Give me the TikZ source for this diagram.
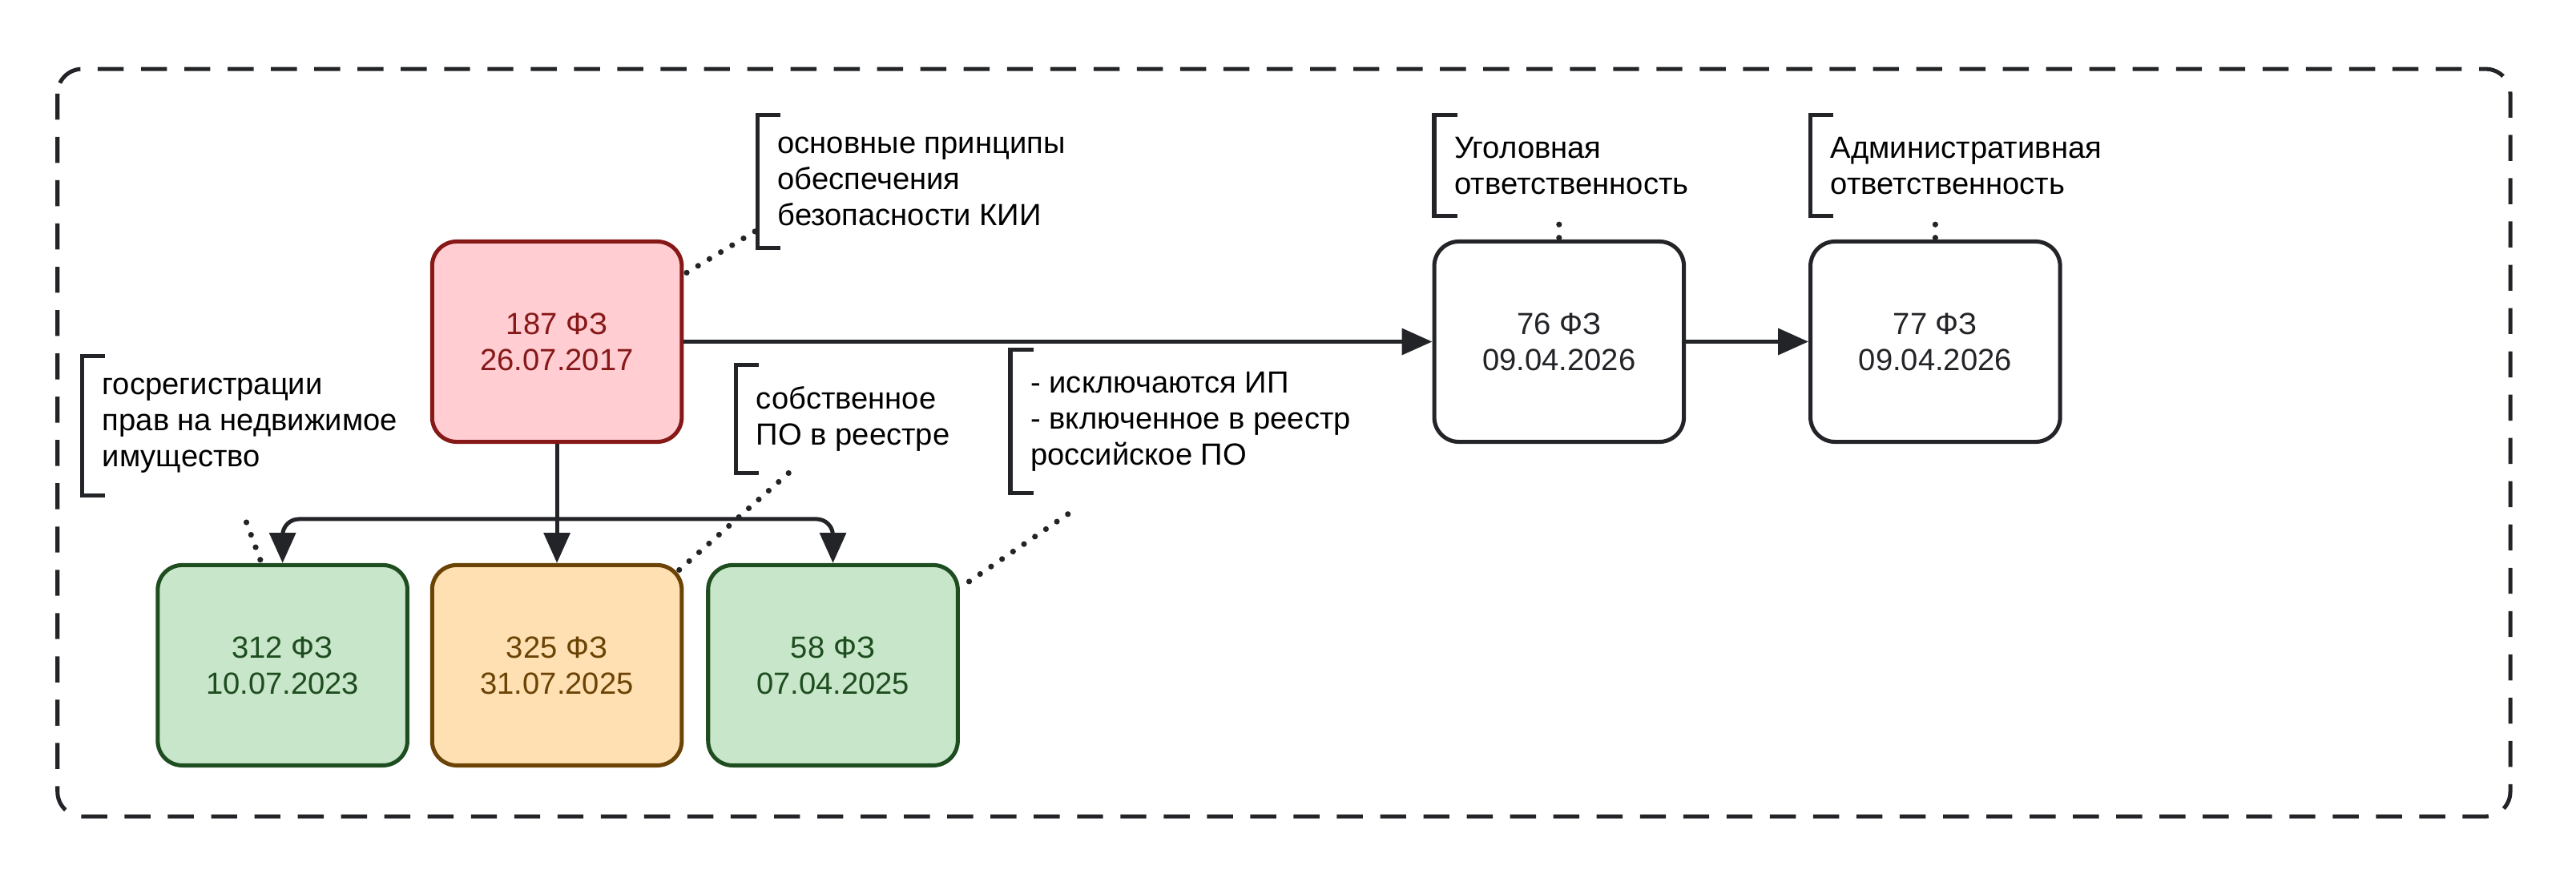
\documentclass[tikz,border=0pt]{standalone}
\usepackage{fontspec}
\setmainfont{Liberation Sans}
\usetikzlibrary{arrows.meta}
\definecolor{redfill}{HTML}{FFCDD2}
\definecolor{redline}{HTML}{861818}
\definecolor{greenfill}{HTML}{C8E6C9}
\definecolor{greenline}{HTML}{1E4D20}
\definecolor{orangefill}{HTML}{FFE0B2}
\definecolor{orangeline}{HTML}{6B4305}
\definecolor{ink}{HTML}{222428}
\tikzset{
  law/.style={draw, rounded corners=0.3cm, line width=1.4pt, minimum width=3.04cm,
    minimum height=2.44cm, align=center, font=\fontsize{10.6}{12.5}\selectfont},
  note/.style={anchor=north west, align=left, inner xsep=0.24cm, inner ysep=0.26cm,
    font=\fontsize{10.6}{12.5}\selectfont, text=black},
  flow/.style={ink, line width=1.4pt, -{Triangle[length=10.5pt,width=9pt]}},
  hint/.style={ink, line width=2pt, dash pattern=on 0pt off 4.6pt, line cap=round},
}
\newcommand{\bracketof}[1]{%
  \draw[ink, line width=1.4pt] ([xshift=0.28cm]#1.north west) -- (#1.north west)
    -- (#1.south west) -- ([xshift=0.28cm]#1.south west);}
\begin{document}
\begin{tikzpicture}[x=0.02cm, y=-0.02cm]
	\useasboundingbox (0,0) rectangle (1568,532);
	\draw[ink, line width=1.4pt, dash pattern=on 9pt off 6pt, rounded corners=0.3cm] (35,42) rectangle (1528,497);
	
	% laws
	\node[law, fill=redfill, draw=redline, text=redline] (fz187) at (339,208) {187 ФЗ\\26.07.2017};
	\node[law, fill=greenfill, draw=greenline, text=greenline] (fz312) at (172,405) {312 ФЗ\\10.07.2023};
	\node[law, fill=orangefill, draw=orangeline, text=orangeline] (fz325) at (339,405) {325 ФЗ\\31.07.2025};
	\node[law, fill=greenfill, draw=greenline, text=greenline] (fz58) at (507,405) {58 ФЗ\\07.04.2025};
	\node[law, fill=white, draw=ink, text=ink] (fz76) at (949,208) {76 ФЗ\\09.04.2026};
	\node[law, fill=white, draw=ink, text=ink] (fz77) at (1178,208) {77 ФЗ\\09.04.2026};
	
	\coordinate (split) at (339,316);
	\draw[flow] (fz187) -- (fz76);
	\draw[flow] (fz76) -- (fz77);
	\draw[flow] (fz187.south) -- (fz325.north);
	\draw[flow, rounded corners=0.2cm] (split) -| (fz312.north);
	\draw[flow, rounded corners=0.2cm] (split) -| (fz58.north);
	
	% notes
	\node[note] (kii) at (461,70) {основные принципы\\обеспечения\\безопасности КИИ};
	\node[note] (reg) at (50,217) {госрегистрации\\прав на недвижимое\\имущество};
	\node[note] (own) at (448,222) {собственное\\ПО в реестре};
	\node[note] (ip) at (615,213) {- исключаются ИП\\- включенное в реестр\\российское ПО};
	\node[note] (crim) at (873,70) {Уголовная\\ответственность};
	\node[note] (adm) at (1102,70) {Административная\\ответственность};
	\foreach \n in {kii,reg,own,ip,crim,adm} {\bracketof{\n}}
	
	% dotted links
	\coordinate (kiiend) at (461,140);
	\coordinate (kiistart) at (418,166);
	\coordinate (regstart) at (150,318);
	\coordinate (regend) at (160,345);
	\coordinate (ownstart) at (480,288);
	\coordinate (ownend) at (410,350);
	\coordinate (ipstart) at (650,313);
	\coordinate (ipend) at (587,356);
	\draw[hint] (kiistart) -- (kiiend);
	\draw[hint] (regstart) -- (regend);
	\draw[hint] (ownstart) -- (ownend);
	\draw[hint] (ipstart) -- (ipend);
	\draw[hint] ([yshift=-0.1cm]crim.south -| fz76.north) -- (fz76.north);
	\draw[hint] ([yshift=-0.1cm]adm.south -| fz77.north) -- (fz77.north);
\end{tikzpicture}
\end{document}
